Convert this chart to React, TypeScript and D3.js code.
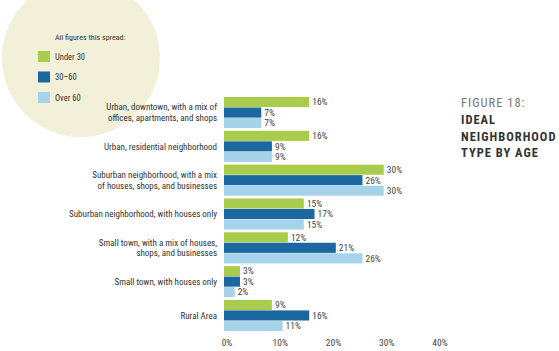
import * as d3 from 'd3'

const categories = [
  ['Urban, downtown, with a mix of', 'offices, apartments, and shops'],
  ['Urban, residential neighborhood'],
  ['Suburban neighborhood, with a mix', 'of houses, shops, and businesses'],
  ['Suburban neighborhood, with houses only'],
  ['Small town, with a mix of houses,', 'shops, and businesses'],
  ['Small town, with houses only'],
  ['Rural Area'],
]
const seriesNames = ['Under 30', '30–60', 'Over 60']
const under30 = [16, 16, 30, 15, 12, 3, 9]
const age30to60 = [7, 9, 26, 17, 21, 3, 16]
const over60 = [7, 9, 30, 15, 26, 2, 11]
const ticks = [0, 10, 20, 30, 40]

const COLORS = ['#a9cc4c', '#1b67a0', '#a6d3ea']
const W = 559
const H = 351
const FONT = '"Liberation Sans Narrow", "Arial Narrow", "Roboto Condensed", sans-serif'

export default function App() {
  const series = [under30, age30to60, over60]
  const keys = categories.map((_, i) => String(i))

  const x = d3.scaleLinear().domain([0, 40]).range([224, 437])
  const y = d3.scaleBand().domain(keys).range([97, 331]).paddingInner(0.08)
  const inner = d3.scaleBand().domain(seriesNames).range([0, y.bandwidth()]).paddingInner(0.04)

  return (
    <svg width={W} height={H} style={{position: 'absolute', left: 0, top: 0, background: '#fff'}}>
      {/* legend blob */}
      <circle cx={81} cy={58} r={79} fill="#f3f0d9" />
      <text x={55} y={40} fontSize={8} fontFamily={FONT} fill="#333">
        All figures this spread:
      </text>
      {seriesNames.map((s, i) => (
        <g key={s} transform={`translate(38,${51 + i * 20.5})`}>
          <rect width={12} height={11} fill={COLORS[i]} />
          <text x={17} y={8.5} fontSize={8.5} fontFamily={FONT} fill="#333">
            {s}
          </text>
        </g>
      ))}

      {categories.map((lines, ci) => {
        const y0 = y(String(ci)) ?? 0
        const cy = y0 + y.bandwidth() / 2
        return (
          <g key={ci}>
            {lines.map((l, li) => (
              <text
                key={li}
                x={217}
                y={cy + (li - (lines.length - 1) / 2) * 10.5}
                dy="0.35em"
                textAnchor="end"
                fontSize={9}
                fontFamily={FONT}
                fill="#333">
                {l}
              </text>
            ))}
            {series.map((vals, si) => {
              const by = y0 + (inner(seriesNames[si]) ?? 0)
              const bh = inner.bandwidth()
              return (
                <g key={si}>
                  <rect x={x(0)} y={by} width={x(vals[ci]) - x(0)} height={bh} fill={COLORS[si]} />
                  <text
                    x={x(vals[ci]) + 3}
                    y={by + bh / 2}
                    dy="0.35em"
                    fontSize={9.5}
                    fontFamily={FONT}
                    fill="#444">
                    {vals[ci]}%
                  </text>
                </g>
              )
            })}
          </g>
        )
      })}

      {ticks.map(t => (
        <text
          key={t}
          x={x(t) + 3}
          y={343}
          dy="0.35em"
          textAnchor="middle"
          fontSize={9.5}
          fontFamily={FONT}
          fill="#444">
          {t}%
        </text>
      ))}

      <g fontFamily={FONT} fontSize={12.5} letterSpacing={1}>
        <text x={461} y={107} fill="#777">
          FIGURE 18:
        </text>
        {['IDEAL', 'NEIGHBORHOOD', 'TYPE BY AGE'].map((t, i) => (
          <text key={t} x={461} y={124 + i * 16.5} fontWeight="bold" fill="#333">
            {t}
          </text>
        ))}
      </g>
    </svg>
  )
}
